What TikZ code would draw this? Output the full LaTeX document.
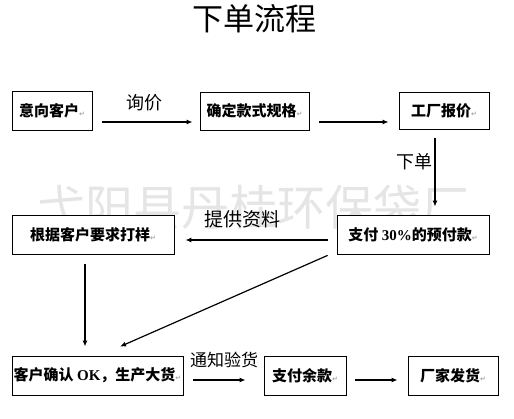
\documentclass[tikz,border=0pt]{standalone}
\usepackage{fontspec}
\setmainfont{Liberation Serif}
\newfontfamily\cjk{Noto Sans CJK SC}
\newfontfamily\symf{DejaVu Sans}
\usetikzlibrary{arrows.meta}
\newcommand{\parmk}{{\symf\fontsize{7}{7}\selectfont\color{gray!70}↵}}
\begin{document}
\begin{tikzpicture}[x=1pt,y=-1pt,
  box/.style={draw=black,line width=0.8pt,fill=white,inner sep=0pt,align=center,
    font=\cjk\bfseries\fontsize{15}{15}\selectfont},
  lbl/.style={inner sep=0pt,font=\cjk\fontsize{18}{18}\selectfont},
  arr/.style={line width=1.2pt,-{Latex[length=6pt,width=5pt]}}]
\useasboundingbox[fill=white] (0,0) rectangle (514,419);
% watermark
\node[inner sep=0pt,text=gray!20,font=\cjk\fontsize{48}{48}\selectfont] (wm) at (253,207) {弋阳县丹桂环保袋厂};
% title
\node[inner sep=0pt,font=\cjk\fontsize{31}{31}\selectfont] (title) at (254,19) {下单流程};
% boxes
\node[box,minimum width=80pt,minimum height=39pt] (b1) at (52,111) {意向客户\parmk};
\node[box,minimum width=109pt,minimum height=38pt] (b2) at (254.5,111) {确定款式规格\parmk};
\node[box,minimum width=90pt,minimum height=37pt] (b3) at (444,110.5) {工厂报价\parmk};
\node[box,minimum width=152pt,minimum height=39pt] (b4) at (413,234.5) {支付 {\rmfamily\bfseries 30\%}的预付款\parmk};
\node[box,minimum width=162pt,minimum height=39pt] (b5) at (93,234.5) {根据客户要求打样\parmk};
\node[box,minimum width=171pt,minimum height=39pt] (b6) at (97.5,375.5) {客户确认 {\rmfamily\bfseries OK}，生产大货\parmk};
\node[box,minimum width=82pt,minimum height=39pt] (b7) at (305,375.5) {支付余款\parmk};
\node[box,minimum width=90pt,minimum height=39pt] (b8) at (453,375.5) {厂家发货\parmk};
% arrows
\draw[arr] ([shift={(10,11)}]b1.east) -- ([shift={(-7,11)}]b2.west);
\draw[arr] ([shift={(10,11)}]b2.east) -- ([shift={(-10,11.5)}]b3.west);
\draw[arr] ([shift={(-9,9)}]b3.south) -- ([shift={(22,-8)}]b4.north);
\draw[arr] ([shift={(-9,5.5)}]b4.west) -- ([shift={(11,5.5)}]b5.east);
\draw[arr] ([shift={(-9,1)}]b4.south west) -- ([shift={(22.5,-9)}]b6.north);
\draw[arr] ([shift={(-8,10)}]b5.south) -- ([shift={(-12.5,-9)}]b6.north);
\draw[arr] ([shift={(10,4.5)}]b6.east) -- ([shift={(-18,4.5)}]b7.west);
\draw[arr] ([shift={(9,4.5)}]b7.east) -- ([shift={(-10,4.5)}]b8.west);
% labels
\node[lbl] (l1) at (144.5,103) {询价};
\node[lbl] (l2) at (414.5,162) {下单};
\node[lbl,font=\cjk\fontsize{19}{19}\selectfont] (l3) at (242,219) {提供资料};
\node[lbl,font=\cjk\fontsize{17}{17}\selectfont] (l4) at (224,360) {通知验货};
\end{tikzpicture}
\end{document}
